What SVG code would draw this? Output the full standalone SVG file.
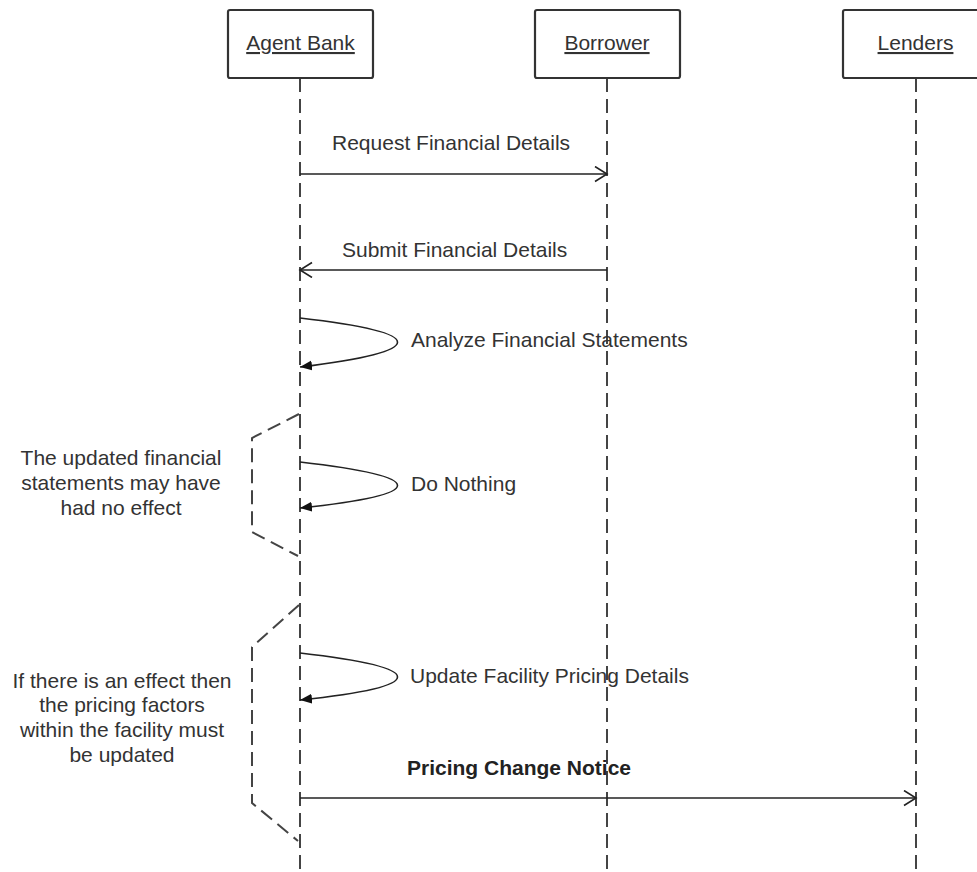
<svg xmlns="http://www.w3.org/2000/svg" width="977" height="872" viewBox="0 0 977 872">
  <style>
    .box { fill: #ffffff; stroke: #333333; stroke-width: 2.2; }
    .title { font-family: "Liberation Sans", Arial, sans-serif; font-size: 21px; fill: #333333; text-anchor: middle; text-decoration: underline; }
    .lifeline { stroke: #444444; stroke-width: 2; stroke-dasharray: 14 7; fill: none; }
    .msg { stroke: #222222; stroke-width: 1.6; fill: none; }
    .label { font-family: "Liberation Sans", Arial, sans-serif; font-size: 21px; fill: #333333; }
    .bold { font-weight: bold; fill: #222222; }
    .note { font-family: "Liberation Sans", Arial, sans-serif; font-size: 21px; fill: #333333; text-anchor: middle; }
    .bracket { stroke: #444444; stroke-width: 2; stroke-dasharray: 14 7; fill: none; }
  </style>
  <defs>
    <marker id="open" markerUnits="userSpaceOnUse" markerWidth="16" markerHeight="18" refX="13" refY="8" orient="auto">
      <path d="M1,0.5 L13,8 L1,15.5" fill="none" stroke="#222222" stroke-width="1.6"/>
    </marker>
    <marker id="solid" markerUnits="userSpaceOnUse" markerWidth="14" markerHeight="12" refX="12" refY="5" orient="auto">
      <path d="M0,0 L12,5 L0,10 Z" fill="#111111"/>
    </marker>
  </defs>

  <rect width="977" height="872" fill="#ffffff"/>

  <!-- lifelines -->
  <g id="lifelines">
    <line class="lifeline" x1="300" y1="78" x2="300" y2="872"/>
    <line class="lifeline" x1="607" y1="78" x2="607" y2="872"/>
    <line class="lifeline" x1="916" y1="78" x2="916" y2="872"/>
  </g>

  <!-- participants -->
  <g id="agent-bank">
    <rect class="box" x="228" y="10" width="145" height="68" rx="2"/>
    <text class="title" x="300.5" y="50">Agent Bank</text>
  </g>
  <g id="borrower">
    <rect class="box" x="535" y="10" width="145" height="68" rx="2"/>
    <text class="title" x="607" y="50">Borrower</text>
  </g>
  <g id="lenders">
    <rect class="box" x="843" y="10" width="145" height="68" rx="2"/>
    <text class="title" x="915.5" y="50">Lenders</text>
  </g>

  <!-- notes -->
  <g id="note-no-effect">
    <path class="bracket" d="M299,414 L252,438 L252,532 L298,556"/>
    <text class="note" x="121" y="465">The updated financial</text>
    <text class="note" x="121" y="490">statements may have</text>
    <text class="note" x="121" y="515">had no effect</text>
  </g>
  <g id="note-effect">
    <path class="bracket" d="M299,605 L252,647 L252,803 L298,841"/>
    <text class="note" x="122" y="688">If there is an effect then</text>
    <text class="note" x="122" y="712">the pricing factors</text>
    <text class="note" x="122" y="737">within the facility must</text>
    <text class="note" x="122" y="762">be updated</text>
  </g>

  <!-- messages -->
  <g id="connectors">
    <line class="msg" x1="300" y1="174" x2="607" y2="174" marker-end="url(#open)"/>
    <line class="msg" x1="607" y1="270" x2="300" y2="270" marker-end="url(#open)"/>
    <path class="msg" d="M300,318 C430,333 430,351 300,367" marker-end="url(#solid)"/>
    <path class="msg" d="M300,462 C430,477 430,494 300,508" marker-end="url(#solid)"/>
    <path class="msg" d="M300,653 C430,668 430,686 300,700" marker-end="url(#solid)"/>
    <line class="msg" x1="300" y1="798" x2="916" y2="798" marker-end="url(#open)"/>
  </g>

  <!-- message labels -->
  <g id="labels">
    <text class="label" x="332" y="150">Request Financial Details</text>
    <text class="label" x="342" y="257">Submit Financial Details</text>
    <text class="label" x="411" y="347">Analyze Financial Statements</text>
    <text class="label" x="411" y="491">Do Nothing</text>
    <text class="label" x="410" y="683">Update Facility Pricing Details</text>
    <text class="label bold" x="407" y="775">Pricing Change Notice</text>
  </g>
</svg>
